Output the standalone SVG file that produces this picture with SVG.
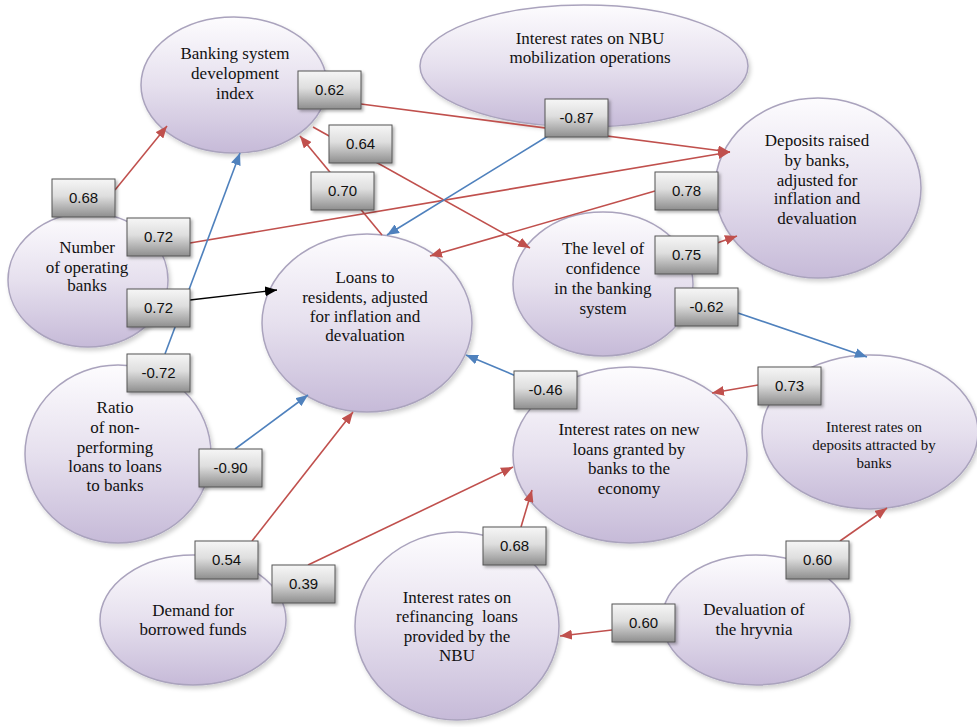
<svg xmlns="http://www.w3.org/2000/svg" width="977" height="727" viewBox="0 0 977 727">
<style>
.node ellipse{fill:url(#eg);stroke:#aaa3bd;stroke-width:1.5;filter:url(#sh)}
.node text{font-family:'Liberation Serif','Times New Roman',serif;font-size:17px;fill:#111;text-anchor:middle}
.node text.sm{font-size:15px}
.lbl rect{fill:url(#bg);stroke:#555;stroke-width:1;filter:url(#sh2)}
.lbl text{font-family:'Liberation Sans',Arial,sans-serif;font-size:15px;fill:#111;text-anchor:middle}
.r{stroke:#c0504d;stroke-width:1.6;fill:none;marker-end:url(#ar)}
.b{stroke:#4f81bd;stroke-width:1.6;fill:none;marker-end:url(#ab)}
.k{stroke:#000;stroke-width:1.4;fill:none;marker-end:url(#ak)}
</style>
<defs>
<linearGradient id="eg" x1="0" y1="0" x2="0" y2="1">
<stop offset="0" stop-color="#fdfcfe"/>
<stop offset="0.5" stop-color="#e6e0ee"/>
<stop offset="1" stop-color="#c6bad8"/>
</linearGradient>
<linearGradient id="bg" x1="0" y1="0" x2="0" y2="1">
<stop offset="0" stop-color="#f6f6f6"/>
<stop offset="0.45" stop-color="#dedede"/>
<stop offset="1" stop-color="#8e8e8e"/>
</linearGradient>
<filter id="sh" x="-10%" y="-10%" width="125%" height="125%">
<feDropShadow dx="2" dy="3" stdDeviation="2" flood-color="#000" flood-opacity="0.18"/>
</filter>
<filter id="sh2" x="-10%" y="-10%" width="130%" height="140%">
<feDropShadow dx="2" dy="2" stdDeviation="1.5" flood-color="#000" flood-opacity="0.3"/>
</filter>
<marker id="ar" markerUnits="userSpaceOnUse" markerWidth="12" markerHeight="10" refX="12" refY="5" orient="auto"><path d="M0,0 L12,5 L0,10 z" fill="#c0504d"/></marker>
<marker id="ab" markerUnits="userSpaceOnUse" markerWidth="12" markerHeight="10" refX="12" refY="5" orient="auto"><path d="M0,0 L12,5 L0,10 z" fill="#4f81bd"/></marker>
<marker id="ak" markerUnits="userSpaceOnUse" markerWidth="12" markerHeight="10" refX="12" refY="5" orient="auto"><path d="M0,0 L12,5 L0,10 z" fill="#000"/></marker>
</defs>
<rect width="977" height="727" fill="#fff"/>

<g id="n-banking" class="node"><ellipse cx="234" cy="85" rx="93" ry="68"/>
<text x="235" y="59">Banking system</text><text x="235" y="79">development</text><text x="235" y="99">index</text></g>
<g id="n-nbu-mob" class="node"><ellipse cx="584" cy="66" rx="164" ry="61"/>
<text x="590" y="44">Interest rates on NBU</text><text x="590" y="63">mobilization operations</text></g>
<g id="n-deposits" class="node"><ellipse cx="818" cy="188" rx="103" ry="90"/>
<text x="817" y="146">Deposits raised</text><text x="817" y="166">by banks,</text><text x="817" y="186">adjusted for</text><text x="817" y="204">inflation and</text><text x="817" y="224">devaluation</text></g>
<g id="n-number" class="node"><ellipse cx="88" cy="280" rx="80" ry="67"/>
<text x="87" y="253">Number</text><text x="87" y="273">of operating</text><text x="87" y="291">banks</text></g>
<g id="n-loans" class="node"><ellipse cx="367" cy="323" rx="105" ry="89"/>
<text x="365" y="283">Loans to</text><text x="365" y="303">residents, adjusted</text><text x="365" y="322">for inflation and</text><text x="365" y="341">devaluation</text></g>
<g id="n-confidence" class="node"><ellipse cx="603" cy="284" rx="90" ry="72"/>
<text x="603" y="254">The level of</text><text x="603" y="274">confidence</text><text x="603" y="294">in the banking</text><text x="603" y="314">system</text></g>
<g id="n-ratio" class="node"><ellipse cx="118" cy="454" rx="93" ry="89"/>
<text x="115" y="413">Ratio</text><text x="115" y="433">of non-</text><text x="115" y="453">performing</text><text x="115" y="472">loans to loans</text><text x="115" y="491">to banks</text></g>
<g id="n-newloans" class="node"><ellipse cx="630" cy="455" rx="117" ry="88"/>
<text x="629" y="435">Interest rates on new</text><text x="629" y="455">loans granted by</text><text x="629" y="474">banks to the</text><text x="629" y="494">economy</text></g>
<g id="n-deprates" class="node"><ellipse cx="870" cy="432" rx="108" ry="77"/>
<text class="sm" x="874" y="432">Interest rates on</text><text class="sm" x="874" y="450">deposits attracted by</text><text class="sm" x="874" y="468">banks</text></g>
<g id="n-demand" class="node"><ellipse cx="193" cy="620" rx="93" ry="65"/>
<text x="193" y="616">Demand for</text><text x="193" y="635">borrowed funds</text></g>
<g id="n-refin" class="node"><ellipse cx="457" cy="626" rx="102" ry="94"/>
<text x="457" y="603">Interest rates on</text><text x="457" y="622" xml:space="preserve">refinancing  loans</text><text x="457" y="642">provided by the</text><text x="457" y="661">NBU</text></g>
<g id="n-deval" class="node"><ellipse cx="756" cy="620" rx="94" ry="65"/>
<text x="754" y="615">Devaluation of</text><text x="754" y="635">the hryvnia</text></g>

<g id="connectors">
<path class="r" d="M115,190 L167,126"/>
<path class="r" d="M382,235 L300,136"/>
<path class="r" d="M313,127 L530,248"/>
<path class="r" d="M361,104 L730,152"/>
<path class="r" d="M190,243 L730,152"/>
<path class="r" d="M655,191 L430,256"/>
<path class="r" d="M700,249 L737,236"/>
<path class="r" d="M758,385 L712,393"/>
<path class="r" d="M252,541 L353,412"/>
<path class="r" d="M308,565 L513,467"/>
<path class="r" d="M521,527 L532,490"/>
<path class="r" d="M840,541 L887,508"/>
<path class="r" d="M612,630 L560,636"/>
<path class="b" d="M165,354 L240,153"/>
<path class="b" d="M548,136 L387,235"/>
<path class="b" d="M738,313 L867,357"/>
<path class="b" d="M516,376 L466,355"/>
<path class="b" d="M235,449 L308,395"/>
<path class="k" d="M190,300 L277,290"/>
</g>

<g id="labels">
<g class="lbl"><rect x="298" y="71" width="63" height="38"/><text x="329.5" y="95">0.62</text></g>
<g class="lbl"><rect x="329" y="125" width="63" height="38"/><text x="360.5" y="149">0.64</text></g>
<g class="lbl"><rect x="52" y="179" width="63" height="38"/><text x="83.5" y="203">0.68</text></g>
<g class="lbl"><rect x="311" y="172" width="63" height="38"/><text x="342.5" y="196">0.70</text></g>
<g class="lbl"><rect x="127" y="218" width="63" height="38"/><text x="158.5" y="242">0.72</text></g>
<g class="lbl"><rect x="127" y="289" width="63" height="38"/><text x="158.5" y="313">0.72</text></g>
<g class="lbl"><rect x="127" y="354" width="63" height="38"/><text x="158.5" y="378">-0.72</text></g>
<g class="lbl"><rect x="199" y="449" width="63" height="38"/><text x="230.5" y="473">-0.90</text></g>
<g class="lbl"><rect x="195" y="541" width="63" height="38"/><text x="226.5" y="565">0.54</text></g>
<g class="lbl"><rect x="272" y="565" width="63" height="38"/><text x="303.5" y="589">0.39</text></g>
<g class="lbl"><rect x="545" y="99" width="63" height="38"/><text x="576.5" y="123">-0.87</text></g>
<g class="lbl"><rect x="655" y="172" width="63" height="38"/><text x="686.5" y="196">0.78</text></g>
<g class="lbl"><rect x="655" y="236" width="63" height="38"/><text x="686.5" y="260">0.75</text></g>
<g class="lbl"><rect x="675" y="288" width="63" height="38"/><text x="706.5" y="312">-0.62</text></g>
<g class="lbl"><rect x="514" y="371" width="63" height="38"/><text x="545.5" y="395">-0.46</text></g>
<g class="lbl"><rect x="758" y="367" width="63" height="38"/><text x="789.5" y="391">0.73</text></g>
<g class="lbl"><rect x="483" y="527" width="63" height="38"/><text x="514.5" y="551">0.68</text></g>
<g class="lbl"><rect x="786" y="541" width="63" height="38"/><text x="817.5" y="565">0.60</text></g>
<g class="lbl"><rect x="612" y="604" width="63" height="38"/><text x="643.5" y="628">0.60</text></g>
</g>
</svg>
